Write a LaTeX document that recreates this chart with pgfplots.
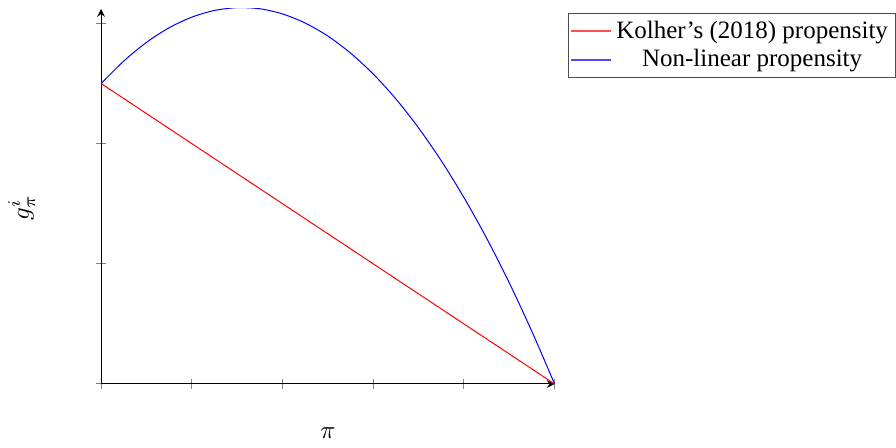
\documentclass[border=0pt]{standalone}
\usepackage{fontspec}
\setmainfont{Liberation Serif}
\usepackage{pgfplots}
\pgfplotsset{compat=1.18}
\begin{document}
\begin{tikzpicture}
\begin{axis}[
  name=ax,
  scale only axis,
  width=181.4pt, height=150pt,
  axis lines=left,
  axis line style={-stealth, thin},
  xmin=0, xmax=1, ymin=0, ymax=3.12,
  xtick={0,0.2,0.4,0.6,0.8,1}, xticklabels={},
  ytick={0,1,2,3}, yticklabels={},
  tick style={gray, thin},
  tick align=center,
  xlabel={$\pi$}, ylabel={$g^i_\pi$},
  xlabel style={at={(axis description cs:0.5,-0.132)}, anchor=center},
  ylabel style={at={(axis description cs:-0.175,0.47)}, anchor=center},
  legend style={at={(1.03,0.99)}, anchor=north west, draw=black!70, inner sep=1pt, row sep=-1pt},
  legend cell align=center,
  clip=true,
]
\addplot[red, thin, legend image code/.code={\fill[red!70] (0.05cm,-0.18pt) rectangle (0.6cm,0.18pt);}] coordinates {(0,2.5) (1,0)};
\addlegendentry{Kolher's (2018) propensity}
\addplot[blue, thin, smooth, legend image code/.code={\fill[blue!70] (0.05cm,-0.18pt) rectangle (0.6cm,0.18pt);}] coordinates {
(0,2.5) (0.05,2.687) (0.1,2.842) (0.15,2.964) (0.2,3.052) (0.25,3.108) (0.3,3.131) (0.35,3.122) (0.4,3.079) (0.45,3.003) (0.5,2.895) (0.55,2.753) (0.6,2.579) (0.65,2.372) (0.7,2.131) (0.75,1.858) (0.8,1.552) (0.85,1.214) (0.9,0.842) (0.95,0.437) (1,0)};
\addlegendentry{Non-linear propensity}
\end{axis}
\path ([yshift=3.6pt]ax.north);
\end{tikzpicture}
\end{document}
